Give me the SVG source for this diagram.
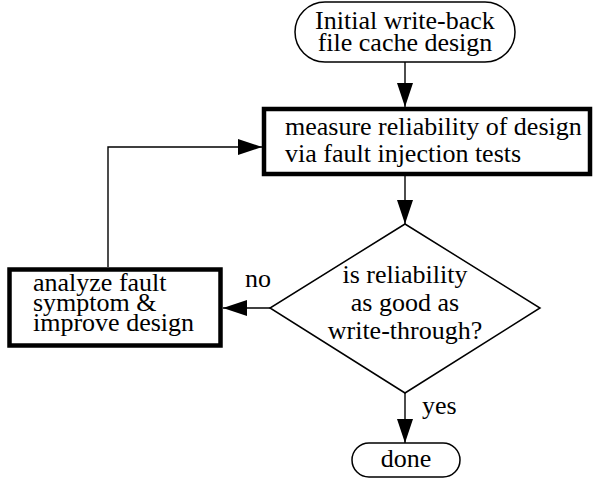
<svg xmlns="http://www.w3.org/2000/svg" width="594" height="479" viewBox="0 0 594 479">
  <style>
    text { font-family: "Liberation Serif", "Times New Roman", serif; font-size: 26px; fill: #000; }
    .thin { fill: #fff; stroke: #000; stroke-width: 1.5; }
    .thick { fill: #fff; stroke: #000; stroke-width: 4.5; }
    .conn { fill: none; stroke: #000; stroke-width: 1.4; }
  </style>
  <defs>
    <marker id="arrow" markerUnits="userSpaceOnUse" markerWidth="24" markerHeight="16" refX="24" refY="8" orient="auto">
      <path d="M0,0 L24,8 L0,16 z" fill="#000"/>
    </marker>
  </defs>
  <rect width="594" height="479" fill="#fff"/>

  <g id="connectors">
    <line class="conn" x1="405" y1="62" x2="405" y2="107" marker-end="url(#arrow)"/>
    <line class="conn" x1="405" y1="176" x2="405" y2="224" marker-end="url(#arrow)"/>
    <line class="conn" x1="270" y1="308" x2="223" y2="308" marker-end="url(#arrow)"/>
    <polyline class="conn" points="108,267 108,147 262,147" marker-end="url(#arrow)"/>
    <line class="conn" x1="405" y1="393" x2="405" y2="443" marker-end="url(#arrow)"/>
    <text x="245" y="287">no</text>
    <text x="422" y="414">yes</text>
  </g>

  <g id="start">
    <rect class="thin" x="295" y="2" width="220" height="60" rx="30" ry="30"/>
    <text x="405" y="29" text-anchor="middle">Initial write-back</text>
    <text x="405" y="51" text-anchor="middle">file cache design</text>
  </g>

  <g id="measure">
    <rect class="thick" x="264" y="109" width="326" height="65"/>
    <text x="285" y="135">measure reliability of design</text>
    <text x="285" y="162">via fault injection tests</text>
  </g>

  <g id="decision">
    <polygon class="thin" points="405,224 540,308 405,393 270,308"/>
    <text x="405" y="283" text-anchor="middle">is reliability</text>
    <text x="405" y="311" text-anchor="middle">as good as</text>
    <text x="405" y="339" text-anchor="middle">write-through?</text>
  </g>

  <g id="analyze">
    <rect class="thick" x="9.5" y="269.5" width="211" height="76" stroke-width="5"/>
    <text x="33" y="291">analyze fault</text>
    <text x="33" y="311">symptom &amp;</text>
    <text x="33" y="331">improve design</text>
  </g>

  <g id="done">
    <rect class="thin" x="352" y="443" width="108" height="34" rx="17" ry="17"/>
    <text x="406" y="467" text-anchor="middle">done</text>
  </g>
</svg>
